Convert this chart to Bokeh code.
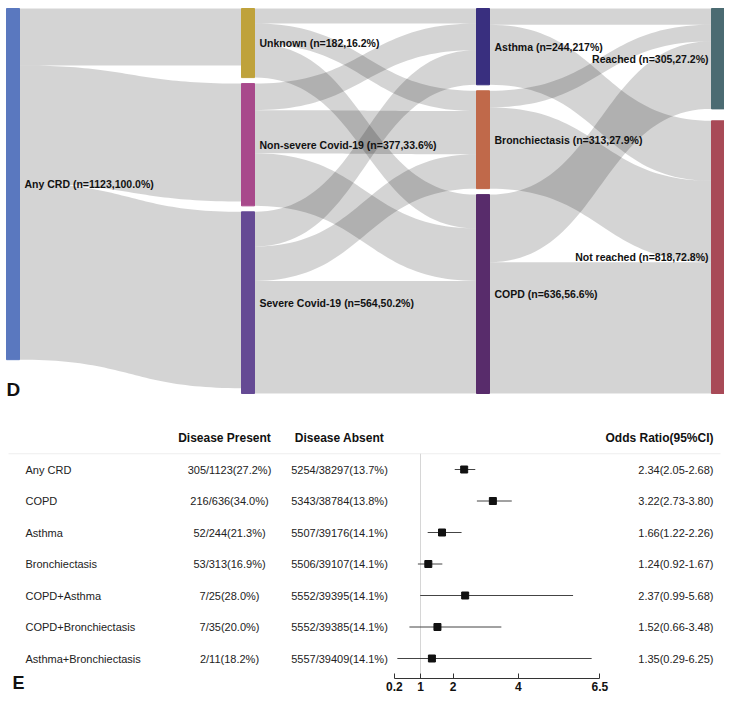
import numpy as np
from bokeh.plotting import figure
from bokeh.models import Range1d, LinearAxis, FixedTicker, ColumnDataSource
from bokeh.layouts import column
from bokeh.embed import file_html
from bokeh.resources import INLINE
from bokeh.core.properties import value

# ---------------- Sankey data ----------------
node_labels = ["Any CRD (n=1123,100.0%)", "Unknown (n=182,16.2%)",
               "Non-severe Covid-19 (n=377,33.6%)", "Severe Covid-19 (n=564,50.2%)",
               "Asthma (n=244,217%)", "Bronchiectasis (n=313,27.9%)", "COPD (n=636,56.6%)",
               "Reached (n=305,27.2%)", "Not reached (n=818,72.8%)"]
node_values = [1123, 182, 377, 564, 244, 313, 636, 305, 818]
node_columns = [0, 1, 1, 1, 2, 2, 2, 3, 3]
node_colors = ["#5a78bf", "#bfa23b", "#a8498b", "#654a94", "#392f7f",
               "#c0694a", "#582c6b", "#4b6b72", "#a84a57"]
link_sources = [0, 0, 0, 1, 1, 1, 2, 2, 2, 3, 3, 3, 4, 4, 5, 5, 6, 6]
link_targets = [1, 2, 3, 4, 5, 6, 4, 5, 6, 4, 5, 6, 7, 8, 7, 8, 7, 8]
link_values = [182, 377, 564, 48, 65, 108, 85, 138, 168, 111, 110, 360, 52, 192, 53, 260, 216, 420]

# ---------------- Forest data ----------------
row_names = ["Any CRD", "COPD", "Asthma", "Bronchiectasis", "COPD+Asthma",
             "COPD+Bronchiectasis", "Asthma+Bronchiectasis"]
present_events = [305, 216, 52, 53, 7, 7, 2]
present_totals = [1123, 636, 244, 313, 25, 35, 11]
absent_events = [5254, 5343, 5507, 5506, 5552, 5552, 5557]
absent_totals = [38297, 38784, 39176, 39107, 39395, 39385, 39409]
odds_ratio = [2.34, 3.22, 1.66, 1.24, 2.37, 1.52, 1.35]
ci_low = [2.05, 2.73, 1.22, 0.92, 0.99, 0.66, 0.29]
ci_high = [2.68, 3.80, 2.26, 1.67, 5.68, 3.48, 6.25]
axis_ticks = [0.2, 1, 2, 4, 6.5]

FONT = "Liberation Sans"
W = 724

# ================= Sankey layout =================
n = len(node_values)
inflow = np.zeros(n)
outflow = np.zeros(n)
for s, t, v in zip(link_sources, link_targets, link_values):
    outflow[s] += v
    inflow[t] += v
size = np.array([max(node_values[i], inflow[i], outflow[i]) for i in range(n)])

ncol = max(node_columns) + 1
col_sums = [size[[i for i in range(n) if node_columns[i] == c]].sum() for c in range(ncol)]
span = max(col_sums) * 1.032
node_top = np.zeros(n)
for c in range(ncol):
    idx = [i for i in range(n) if node_columns[i] == c]
    gap = (span - size[idx].sum()) / (len(idx) - 1) if len(idx) > 1 else 0
    y = 0.0
    for i in idx:
        node_top[i] = y
        y += size[i] + gap
node_bot = node_top + size

H1 = 410
top_pad = 8
used_px = 385
u_per_px = span / used_px
y_end = -top_pad * u_per_px
y_start = (H1 - top_pad) * u_per_px
node_w = 13
x0_pad = 6
col_step = (W - x0_pad - node_w) / (ncol - 1)
node_left = np.array([x0_pad + node_columns[i] * col_step for i in range(n)])
node_right = node_left + node_w

out_off = node_top.copy()
in_off = node_top.copy()
order_out = sorted(range(len(link_values)), key=lambda k: (link_sources[k], node_top[link_targets[k]]))
src_y = {}
for k in order_out:
    s = link_sources[k]
    src_y[k] = (out_off[s], out_off[s] + link_values[k])
    out_off[s] += link_values[k]
order_in = sorted(range(len(link_values)), key=lambda k: (link_targets[k], node_top[link_sources[k]]))
tgt_y = {}
for k in order_in:
    t = link_targets[k]
    tgt_y[k] = (in_off[t], in_off[t] + link_values[k])
    in_off[t] += link_values[k]

tt = np.linspace(0, 1, 50)
def bez(a, b, c, d):
    return (1 - tt) ** 3 * a + 3 * (1 - tt) ** 2 * tt * b + 3 * (1 - tt) * tt ** 2 * c + tt ** 3 * d

xs_list, ys_list = [], []
for k in range(len(link_values)):
    s, t = link_sources[k], link_targets[k]
    x0, x1 = node_right[s], node_left[t]
    xm = (x0 + x1) / 2
    bx = bez(x0, xm, xm, x1)
    top = bez(src_y[k][0], src_y[k][0], tgt_y[k][0], tgt_y[k][0])
    bot = bez(src_y[k][1], src_y[k][1], tgt_y[k][1], tgt_y[k][1])
    xs_list.append(list(bx) + list(bx[::-1]))
    ys_list.append(list(top) + list(bot[::-1]))

p1 = figure(width=W, height=H1, output_backend="svg", toolbar_location=None,
            x_range=Range1d(0, W), y_range=Range1d(y_start, y_end),
            x_axis_location=None, y_axis_location=None, min_border=0)
p1.grid.visible = False
p1.outline_line_color = None
p1.patches(xs_list, ys_list, fill_color="black", fill_alpha=0.17, line_color=None)
p1.quad(left=node_left, right=node_right, top=node_top, bottom=node_bot,
        fill_color=node_colors, line_color=node_colors)

lab_x = [node_right[i] + 5 if node_columns[i] < ncol - 1 else node_left[i] - 3 for i in range(n)]
lab_align = ["left" if node_columns[i] < ncol - 1 else "right" for i in range(n)]
lab_src = ColumnDataSource(dict(x=lab_x, y=(node_top + node_bot) / 2, text=node_labels, align=lab_align))
p1.text(x="x", y="y", text="text", source=lab_src, text_align="align", text_baseline="middle",
        text_font=value(FONT), text_font_style="bold", text_font_size="10.5px", text_color="#111111")
p1.text(x=[6], y=[(389 - top_pad) * u_per_px], text=["D"], text_align="left", text_baseline="middle",
        text_font=value(FONT), text_font_style="bold", text_font_size="19px", text_color="#111111")

# ================= Forest plot =================
H2 = 694 - H1
px_per = 32.6
one_px = 420
def sx(px):
    return 1 + (px - one_px) / px_per
row0_px = 469 - H1
row_step = 31.5
def ry_(px):
    return (px - row0_px) / row_step
y_top = ry_(0)
y_bot = ry_(H2)
axis_y = ry_(678 - H1)
e_y = ry_(682 - H1)
ref_end = ry_(673 - H1)

p2 = figure(width=W, height=H2, output_backend="svg", toolbar_location=None,
            x_range=Range1d(sx(0), sx(W)), y_range=Range1d(y_bot, y_top),
            x_axis_location=None, y_axis_location=None, min_border=0)
p2.grid.visible = False
p2.outline_line_color = None

nr = len(row_names)
ry = list(range(nr))
p2.segment(x0=[sx(8)], y0=[-0.5], x1=[sx(720)], y1=[-0.5], line_color="#eeeeee", line_width=1)
p2.segment(x0=[1], y0=[-0.5], x1=[1], y1=[ref_end], line_color="#d6d6d6", line_width=1)

hdr_y = -1
p2.text(x=[sx(224), sx(339)], y=[hdr_y, hdr_y], text=["Disease Present", "Disease Absent"],
        text_align="center", text_baseline="middle", text_font=value(FONT),
        text_font_style="bold", text_font_size="12px", text_color="#111111")
p2.text(x=[sx(713)], y=[hdr_y], text=["Odds Ratio(95%CI)"], text_align="right", text_baseline="middle",
        text_font=value(FONT), text_font_style="bold", text_font_size="12px", text_color="#111111")

present_txt = [f"{e}/{t}({100 * e / t:.1f}%)" for e, t in zip(present_events, present_totals)]
absent_txt = [f"{e}/{t}({100 * e / t:.1f}%)" for e, t in zip(absent_events, absent_totals)]
or_txt = [f"{o:.2f}({l:.2f}-{h:.2f})" for o, l, h in zip(odds_ratio, ci_low, ci_high)]

p2.text(x=[sx(25)] * nr, y=ry, text=row_names, text_align="left", text_baseline="middle",
        text_font=value(FONT), text_font_size="11px", text_color="#222222")
p2.text(x=[sx(229)] * nr, y=ry, text=present_txt, text_align="center", text_baseline="middle",
        text_font=value(FONT), text_font_size="11px", text_color="#222222")
p2.text(x=[sx(339)] * nr, y=ry, text=absent_txt, text_align="center", text_baseline="middle",
        text_font=value(FONT), text_font_size="11px", text_color="#222222")
p2.text(x=[sx(713)] * nr, y=ry, text=or_txt, text_align="right", text_baseline="middle",
        text_font=value(FONT), text_font_size="11px", text_color="#222222")

p2.segment(x0=ci_low, y0=ry, x1=ci_high, y1=ry, line_color="#444444", line_width=1)
p2.scatter(x=odds_ratio, y=ry, marker="square", size=7, fill_color="#111111", line_color="#111111")

ax = LinearAxis(ticker=FixedTicker(ticks=axis_ticks), bounds=(min(axis_ticks), max(axis_ticks)),
                fixed_location=axis_y)
ax.major_tick_in = 5
ax.major_tick_out = 0
ax.minor_tick_line_color = None
ax.major_label_standoff = 3
ax.axis_line_color = "#333333"
ax.major_tick_line_color = "#333333"
ax.major_label_text_font = FONT
ax.major_label_text_font_style = "bold"
ax.major_label_text_font_size = "12px"
ax.major_label_text_color = "#111111"
ax.major_label_overrides = {0.2: "0.2", 1: "1", 2: "2", 4: "4", 6.5: "6.5"}
p2.add_layout(ax, "below")

p2.text(x=[sx(12)], y=[e_y], text=["E"], text_align="left", text_baseline="middle",
        text_font=value(FONT), text_font_style="bold", text_font_size="18px", text_color="#111111")

layout = column(p1, p2, spacing=0)
open("out.html", "w").write(file_html(layout, INLINE))
